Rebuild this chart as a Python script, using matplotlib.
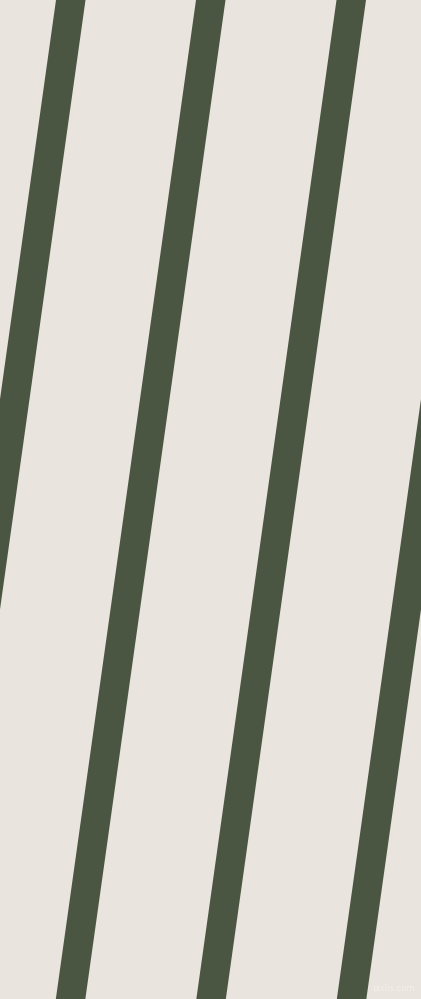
import matplotlib
matplotlib.use('Agg')
import matplotlib.pyplot as plt

# stripe left edges where they meet the top border (pixels)
stripe_starts = [-84.5, 56.0, 196.0, 336.5, 477.0]
stripe_width = 29.5
stripe_slope = 0.1403  # horizontal shift per pixel going down

width, height = 421, 999
bg_color = "#EAE4DE"
stripe_color = "#4B5642"

fig = plt.figure(figsize=(width / 100, height / 100), dpi=100)
fig.patch.set_facecolor(bg_color)
ax = fig.add_axes([0, 0, 1, 1])
ax.set_facecolor(bg_color)
ax.set_xlim(0, width)
ax.set_ylim(height, 0)
ax.axis("off")

for x0 in stripe_starts:
    x1 = x0 - stripe_slope * height
    xs = [x0, x0 + stripe_width, x1 + stripe_width, x1]
    ys = [0, 0, height, height]
    ax.fill(xs, ys, color=stripe_color, lw=0, antialiased=True)

ax.text(415, 993, "pixlis.com", ha="right", va="bottom", fontsize=6,
        color="#F4F1EE", alpha=0.9)

fig.savefig("out.png", dpi=100, facecolor=bg_color)
plt.close(fig)
